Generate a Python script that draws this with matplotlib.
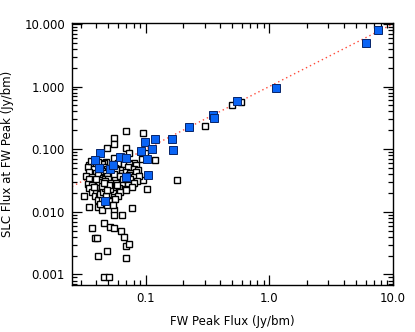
import matplotlib
matplotlib.use("Agg")
import matplotlib.pyplot as plt
import numpy as np
from matplotlib.ticker import FixedLocator, LogLocator, NullFormatter

# Fuentes del catalogo completo (cuadrados abiertos)
open_fw = [0.30, 0.50, 0.59, 0.070, 0.096, 0.055, 0.055, 0.049, 0.069, 0.073,
           0.098, 0.120, 0.093, 0.035, 0.055, 0.048, 0.046, 0.081, 0.078, 0.095,
           0.102, 0.181, 0.078, 0.078, 0.0317, 0.035, 0.041, 0.044, 0.055, 0.055,
           0.065, 0.077, 0.037, 0.046, 0.052, 0.055, 0.063, 0.067, 0.039, 0.0405,
           0.070, 0.074, 0.049, 0.041, 0.069, 0.046, 0.051,
           0.037, 0.040, 0.044, 0.060, 0.067, 0.074, 0.083,
           0.034, 0.038, 0.046, 0.049, 0.057, 0.062, 0.072, 0.080, 0.086,
           0.035, 0.040, 0.044, 0.048, 0.053, 0.058, 0.064, 0.070, 0.075, 0.083,
           0.033, 0.037, 0.041, 0.045, 0.049, 0.055, 0.060, 0.065, 0.073, 0.080, 0.088,
           0.035, 0.039, 0.043, 0.047, 0.051, 0.057, 0.063, 0.069, 0.075, 0.085,
           0.034, 0.037, 0.041, 0.044, 0.048, 0.053, 0.058, 0.064, 0.072, 0.081,
           0.035, 0.040, 0.043, 0.046, 0.050, 0.055, 0.061, 0.068, 0.077,
           0.037, 0.040, 0.044, 0.046, 0.049, 0.054, 0.062, 0.070,
           0.039, 0.042, 0.045, 0.048, 0.053, 0.060,
           0.041, 0.044, 0.051, 0.057,
           0.043, 0.049, 0.054,
           0.042, 0.046, 0.050, 0.052, 0.045, 0.047, 0.056, 0.062, 0.066, 0.059,
           0.040, 0.038, 0.036, 0.041,
           0.043, 0.045, 0.047, 0.050, 0.052, 0.044, 0.048, 0.051, 0.046, 0.049]
open_slc = [0.233, 0.50, 0.56, 0.194, 0.18, 0.150, 0.120, 0.104, 0.104, 0.086,
            0.086, 0.066, 0.069, 0.056, 0.072, 0.062, 0.060, 0.060, 0.052, 0.032,
            0.023, 0.032, 0.030, 0.027, 0.0178, 0.0119, 0.012, 0.0106, 0.0106, 0.0089,
            0.0089, 0.0115, 0.0055, 0.0066, 0.0057, 0.0055, 0.0049, 0.0040, 0.0038, 0.0038,
            0.0029, 0.0031, 0.0024, 0.0020, 0.0018, 0.00091, 0.00091,
            0.059, 0.056, 0.058, 0.061, 0.057, 0.059, 0.056,
            0.051, 0.049, 0.052, 0.048, 0.050, 0.047, 0.051, 0.049, 0.046,
            0.044, 0.042, 0.045, 0.041, 0.043, 0.046, 0.042, 0.044, 0.041, 0.043,
            0.038, 0.036, 0.039, 0.035, 0.037, 0.038, 0.035, 0.037, 0.039, 0.036, 0.037,
            0.033, 0.031, 0.032, 0.034, 0.031, 0.033, 0.030, 0.032, 0.034, 0.031,
            0.028, 0.027, 0.029, 0.027, 0.028, 0.026, 0.029, 0.028, 0.027, 0.029,
            0.024, 0.023, 0.025, 0.024, 0.023, 0.025, 0.024, 0.023, 0.025,
            0.021, 0.020, 0.022, 0.020, 0.021, 0.020, 0.021, 0.022,
            0.018, 0.017, 0.018, 0.019, 0.017, 0.018,
            0.0155, 0.016, 0.015, 0.016,
            0.0135, 0.013, 0.0128,
            0.030, 0.026, 0.034, 0.029, 0.022, 0.031, 0.040, 0.038, 0.033, 0.027,
            0.034, 0.025, 0.065, 0.063,
            0.019, 0.021, 0.024, 0.019, 0.023, 0.026, 0.018, 0.027, 0.029, 0.022]

# Fuentes seleccionadas (cuadrados azules)
blue_fw = [7.6, 6.1, 1.13, 0.55, 0.35, 0.36, 0.226, 0.162, 0.168, 0.118,
           0.098, 0.0427, 0.039, 0.091, 0.112, 0.102, 0.062, 0.070, 0.042, 0.052,
           0.069, 0.104, 0.0472, 0.054]
blue_slc = [7.9, 4.9, 0.94, 0.58, 0.35, 0.32, 0.224, 0.145, 0.096, 0.145,
            0.129, 0.086, 0.067, 0.093, 0.100, 0.069, 0.075, 0.072, 0.050, 0.048,
            0.036, 0.0385, 0.0148, 0.056]

xlim = (0.0254, 10.0)
ylim = (0.00068, 10.3)

fig = plt.figure(figsize=(4.15, 3.32), dpi=100)
ax = fig.add_axes([0.1735, 0.1416, 0.7735, 0.789])

# linea 1:1
ax.plot(xlim, xlim, linestyle=(0, (1, 2.2)), color="#ff4a3a", lw=1.0, zorder=1)

ax.plot(open_fw, open_slc, "s", ms=5.0, mfc="white", mec="black", mew=1.0,
        linestyle="none", zorder=2)
ax.plot(blue_fw, blue_slc, "s", ms=5.6, mfc="#0a64f5", mec="#06246a", mew=0.7,
        linestyle="none", zorder=3)

ax.set_xscale("log")
ax.set_yscale("log")
ax.set_xlim(*xlim)
ax.set_ylim(*ylim)

ax.xaxis.set_major_locator(FixedLocator([0.1, 1.0, 10.0]))
ax.set_xticklabels(["0.1", "1.0", "10.0"])
ax.yaxis.set_major_locator(FixedLocator([0.001, 0.01, 0.1, 1.0, 10.0]))
ax.set_yticklabels(["0.001", "0.010", "0.100", "1.000", "10.000"])
ax.xaxis.set_minor_locator(LogLocator(base=10, subs=np.arange(2, 10)))
ax.yaxis.set_minor_locator(LogLocator(base=10, subs=np.arange(2, 10)))
ax.xaxis.set_minor_formatter(NullFormatter())
ax.yaxis.set_minor_formatter(NullFormatter())

ax.tick_params(which="both", direction="in", top=True, right=True,
               labelsize=8.5, width=0.9, colors="black")
ax.tick_params(which="major", length=7, pad=5)
ax.tick_params(which="minor", length=3.5)
for s in ax.spines.values():
    s.set_linewidth(1.0)

ax.set_xlabel("FW Peak Flux (Jy/bm)", fontsize=8.5, labelpad=7)
ax.set_ylabel("SLC Flux at FW Peak (Jy/bm)", fontsize=8.5)
ax.yaxis.set_label_coords(-0.18, 0.5)

fig.savefig("out.png", dpi=100)
